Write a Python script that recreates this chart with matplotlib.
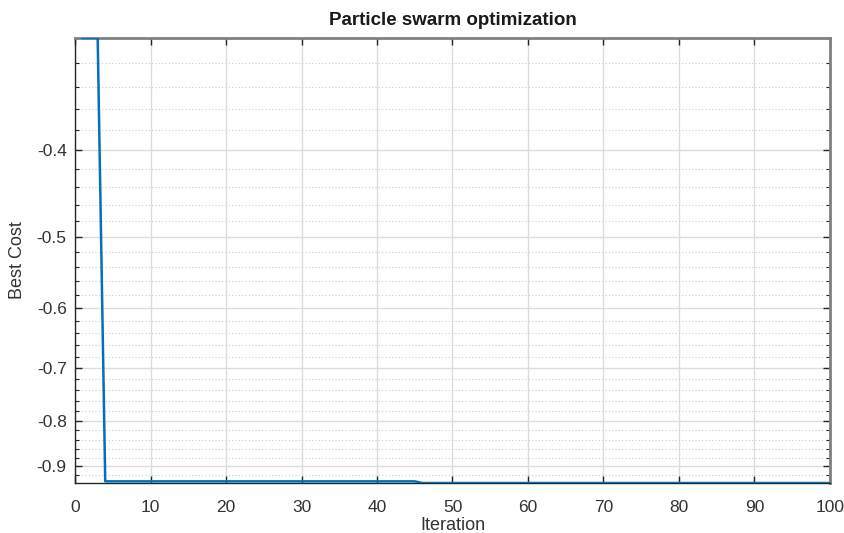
import numpy as np
import matplotlib
matplotlib.use("Agg")
import matplotlib.pyplot as plt
from matplotlib.ticker import FixedLocator, FuncFormatter

# best cost per iteration
iterations = list(range(1, 101))
best_cost = [-0.30] * 3 + [-0.935] * 42 + [-0.939] * 55

y_major = [-0.9, -0.8, -0.7, -0.6, -0.5, -0.4]
y_minor = [-0.92, -0.88, -0.86, -0.84, -0.82, -0.78, -0.76, -0.74, -0.72,
           -0.68, -0.66, -0.64, -0.62, -0.58, -0.56, -0.54, -0.52,
           -0.48, -0.46, -0.44, -0.42, -0.38, -0.36, -0.34, -0.32]
x_ticks = list(range(0, 101, 10))

plt.rcParams['font.family'] = ['Liberation Sans', 'DejaVu Sans']


def fwd(y):
    return -np.log(np.clip(-np.asarray(y, dtype=float), 1e-9, None))


def inv(f):
    return -np.exp(-np.asarray(f, dtype=float))


fig = plt.figure(figsize=(8.45, 5.33), dpi=100)
ax = fig.add_axes([0.0888, 0.0938, 0.8934, 0.835])
ax.set_yscale('function', functions=(fwd, inv))

ax.plot(iterations, best_cost, color='#0072BD', linewidth=1.8, zorder=3)

ax.set_xlim(0, 100)
ax.set_ylim(min(best_cost), max(best_cost))
ax.set_xticks(x_ticks)
ax.yaxis.set_major_locator(FixedLocator(y_major))
ax.yaxis.set_minor_locator(FixedLocator(y_minor))
ax.yaxis.set_major_formatter(FuncFormatter(lambda v, p: f"{v:g}"))
ax.xaxis.set_minor_locator(FixedLocator([]))

ax.grid(True, which='major', color='#dcdcdc', linewidth=1.0, linestyle='-')
ax.grid(True, which='minor', axis='y', color='#cccccc', linewidth=0.8,
        linestyle=(0, (1, 2)))
ax.set_axisbelow(True)

ax.tick_params(which='both', direction='in', top=True, right=True,
               colors='#262626', labelcolor='#333333', labelsize=12.5)
ax.tick_params(which='major', length=5, width=1)
ax.tick_params(which='minor', length=3, width=0.8)
ax.tick_params(axis='x', which='major', pad=12)
ax.tick_params(axis='y', which='major', pad=6)
for side in ['left', 'bottom']:
    ax.spines[side].set_color('#262626')
    ax.spines[side].set_linewidth(1.0)
for side in ['top', 'right']:
    ax.spines[side].set_color('#808080')
    ax.spines[side].set_linewidth(2.0)

ax.set_title("Particle swarm optimization", fontsize=13.5, fontweight='bold',
             color='#1a1a1a', pad=9)
ax.set_xlabel("Iteration", fontsize=13, color='#333333', labelpad=2)
ax.set_ylabel("Best Cost", fontsize=13, color='#333333', labelpad=8)

fig.savefig("out.png", dpi=100)
